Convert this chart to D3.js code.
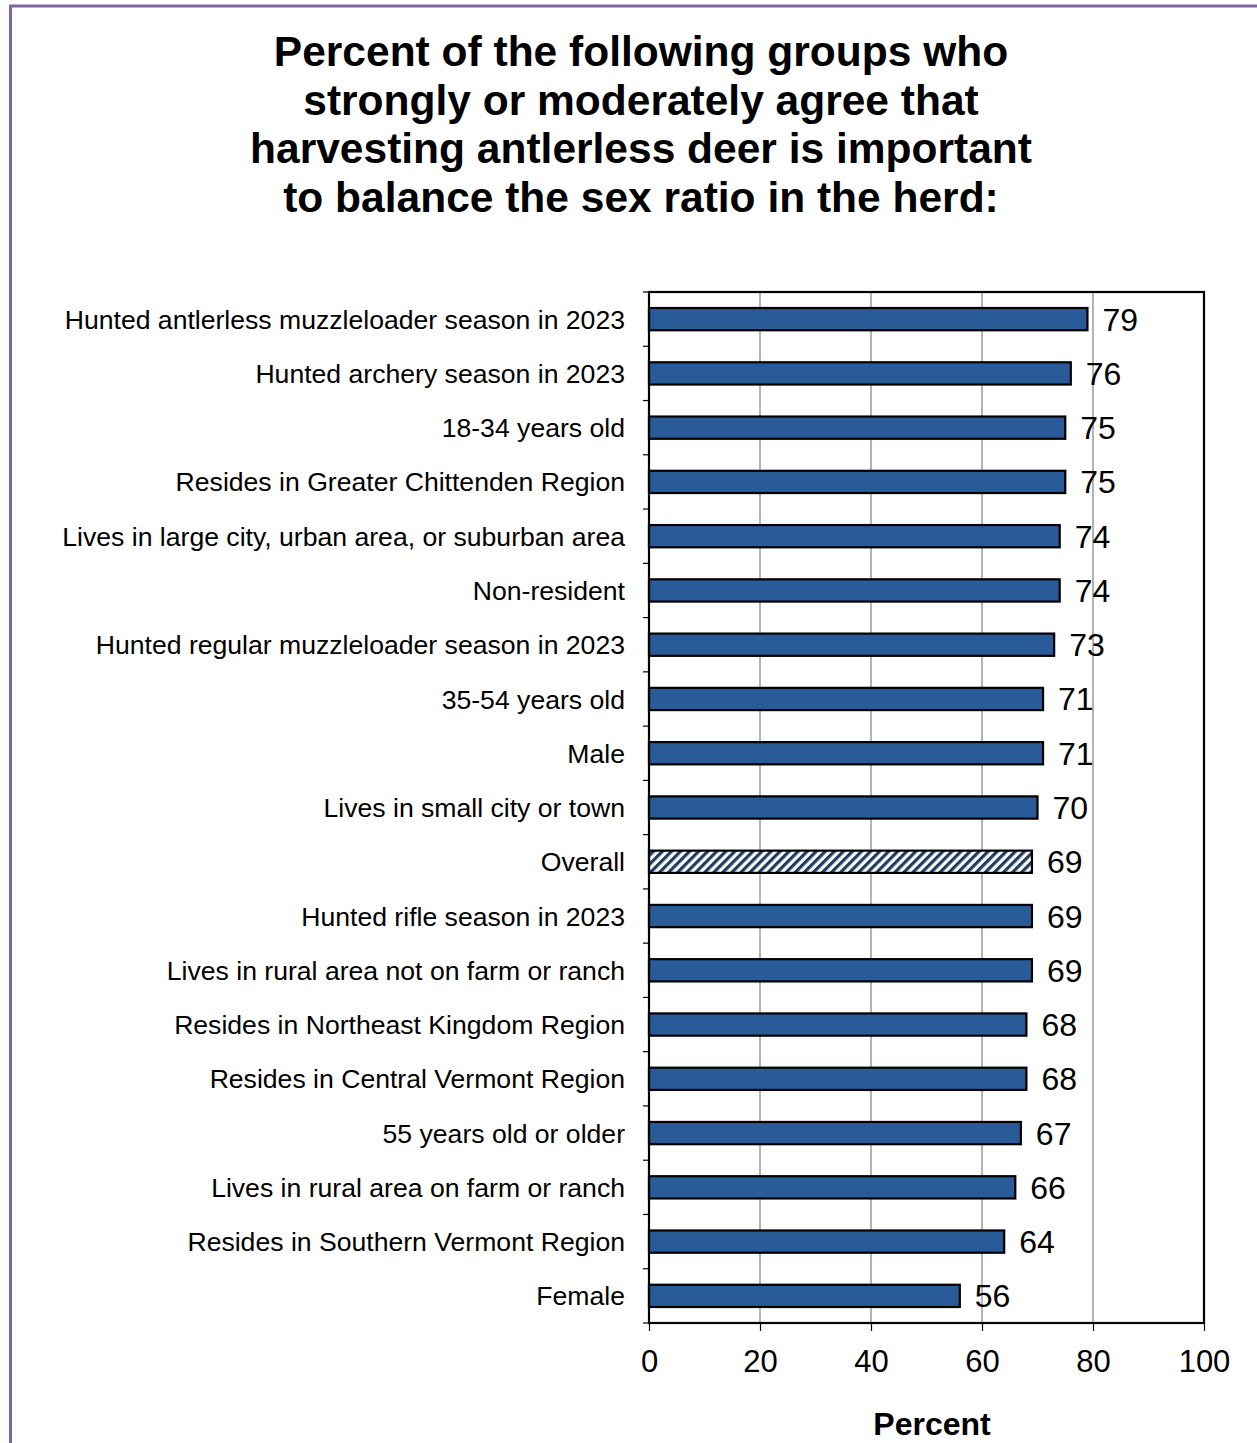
<!DOCTYPE html>
<html>
<head>
<meta charset="utf-8">
<script src="https://cdn.jsdelivr.net/npm/d3@7"></script>
<style>
  html, body { margin: 0; padding: 0; background: #fff; }
  svg { display: block; font-family: Arial, "Liberation Sans", sans-serif; }
</style>
</head>
<body>
<svg id="chart" width="1257" height="1443"></svg>
<script>
const titleLines = [
  "Percent of the following groups who",
  "strongly or moderately agree that",
  "harvesting antlerless deer is important",
  "to balance the sex ratio in the herd:"
];
const categories = [
  "Hunted antlerless muzzleloader season in 2023",
  "Hunted archery season in 2023",
  "18-34 years old",
  "Resides in Greater Chittenden Region",
  "Lives in large city, urban area, or suburban area",
  "Non-resident",
  "Hunted regular muzzleloader season in 2023",
  "35-54 years old",
  "Male",
  "Lives in small city or town",
  "Overall",
  "Hunted rifle season in 2023",
  "Lives in rural area not on farm or ranch",
  "Resides in Northeast Kingdom Region",
  "Resides in Central Vermont Region",
  "55 years old or older",
  "Lives in rural area on farm or ranch",
  "Resides in Southern Vermont Region",
  "Female"
];
const values = [79, 76, 75, 75, 74, 74, 73, 71, 71, 70, 69, 69, 69, 68, 68, 67, 66, 64, 56];
const highlighted = ["Overall"];
const xTicks = [0, 20, 40, 60, 80, 100];
const xLabel = "Percent";

const svg = d3.select("#chart");
const W = 1257, H = 1443;
const plot = { left: 649, right: 1204, top: 292, bottom: 1323 };

// outer purple frame (top and left edges visible)
svg.append("line").attr("x1", 9).attr("x2", W).attr("y1", 6).attr("y2", 6)
  .attr("stroke", "#8064A2").attr("stroke-width", 3);
svg.append("line").attr("x1", 10.5).attr("x2", 10.5).attr("y1", 5).attr("y2", H)
  .attr("stroke", "#8064A2").attr("stroke-width", 3);

// hatch pattern for the overall bar
const defs = svg.append("defs");
const pat = defs.append("pattern")
  .attr("id", "hatch").attr("patternUnits", "userSpaceOnUse")
  .attr("width", 6.4).attr("height", 6.4)
  .attr("patternTransform", "rotate(45)");
pat.append("rect").attr("width", 6.4).attr("height", 6.4).attr("fill", "#ffffff");
pat.append("rect").attr("x", 0).attr("width", 3.2).attr("height", 6.4).attr("fill", "#1E3C5E");

// title
const title = svg.append("text")
  .attr("text-anchor", "middle")
  .attr("font-weight", "bold")
  .attr("font-size", 42.5)
  .attr("fill", "#000");
titleLines.forEach((t, i) => {
  title.append("tspan").attr("x", 641).attr("y", 66 + i * 48.5).text(t);
});

const x = d3.scaleLinear().domain([0, 100]).range([plot.left, plot.right]);
const y = d3.scaleBand().domain(categories).range([plot.top, plot.bottom]).paddingInner(0.59).paddingOuter(0.295);
const yOuter = d3.scaleBand().domain(categories).range([plot.top, plot.bottom]);

// gridlines
svg.append("g").selectAll("line")
  .data(xTicks.filter(d => d > 0 && d < 100))
  .join("line")
  .attr("x1", d => x(d)).attr("x2", d => x(d))
  .attr("y1", plot.top).attr("y2", plot.bottom)
  .attr("stroke", "#808080").attr("stroke-width", 1.2);

// bars
svg.append("g").selectAll("rect")
  .data(categories.map((c, i) => ({ c, v: values[i] })))
  .join("rect")
  .attr("x", x(0))
  .attr("y", d => y(d.c))
  .attr("width", d => x(d.v) - x(0))
  .attr("height", y.bandwidth())
  .attr("fill", d => highlighted.includes(d.c) ? "url(#hatch)" : "#2A5B99")
  .attr("stroke", "#000").attr("stroke-width", 2.2);

// value labels
svg.append("g").selectAll("text")
  .data(categories.map((c, i) => ({ c, v: values[i] })))
  .join("text")
  .attr("x", d => x(d.v) + 15)
  .attr("y", d => y(d.c) + y.bandwidth() / 2)
  .attr("dy", "0.36em")
  .attr("font-size", 32)
  .attr("fill", "#000")
  .text(d => d.v);

// plot frame
svg.append("rect")
  .attr("x", plot.left).attr("y", plot.top)
  .attr("width", plot.right - plot.left).attr("height", plot.bottom - plot.top)
  .attr("fill", "none").attr("stroke", "#000").attr("stroke-width", 2.2);

// category axis
const yAxis = svg.append("g").attr("transform", `translate(${plot.left},0)`);
yAxis.selectAll("line.tick")
  .data(categories.slice(1).map(c => yOuter(c)).concat([plot.top, plot.bottom]))
  .join("line").attr("class", "tick")
  .attr("x1", -6).attr("x2", 0)
  .attr("y1", d => d).attr("y2", d => d)
  .attr("stroke", "#000").attr("stroke-width", 1.2);
yAxis.selectAll("text")
  .data(categories)
  .join("text")
  .attr("x", -24)
  .attr("y", d => yOuter(d) + yOuter.bandwidth() / 2)
  .attr("dy", "0.36em")
  .attr("text-anchor", "end")
  .attr("font-size", 26.6)
  .attr("fill", "#000")
  .text(d => d);

// value axis
const xAxis = d3.axisBottom(x).tickValues(xTicks).tickSize(8).tickPadding(19);
const xg = svg.append("g").attr("transform", `translate(0,${plot.bottom})`).call(xAxis);
xg.select(".domain").remove();
xg.selectAll(".tick line").attr("stroke", "#000").attr("stroke-width", 1.2);
xg.selectAll(".tick text").attr("font-size", 31).attr("fill", "#000")
  .attr("font-family", "Arial, 'Liberation Sans', sans-serif");

svg.append("text")
  .attr("x", 932).attr("y", 1435)
  .attr("text-anchor", "middle")
  .attr("font-weight", "bold").attr("font-size", 32)
  .attr("fill", "#000")
  .text(xLabel);
</script>
</body>
</html>
